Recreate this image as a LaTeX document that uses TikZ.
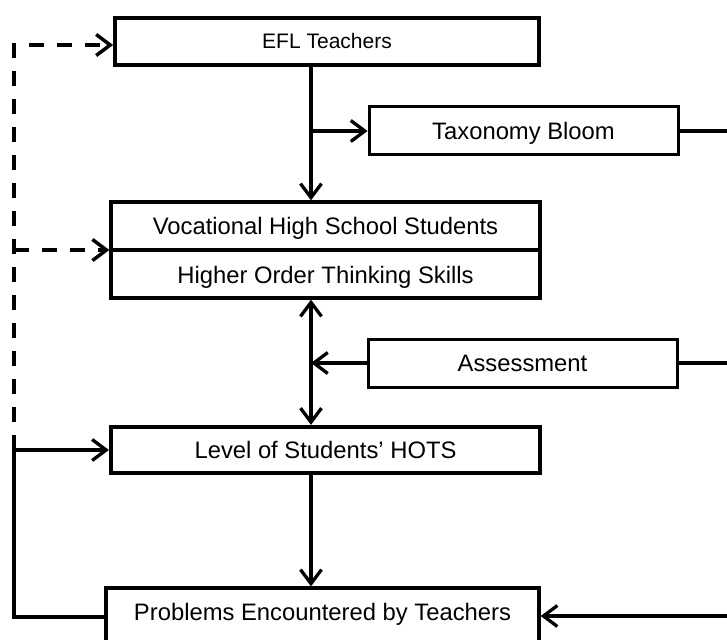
\documentclass[tikz,border=0pt]{standalone}
\usepackage{fontspec}
\setmainfont{Liberation Sans}
\usetikzlibrary{arrows.meta}
\begin{document}
\begin{tikzpicture}[x=1pt,y=-1pt,
  box/.style={draw, line width=3.3pt, inner sep=0pt, font=\fontsize{23.8pt}{28pt}\selectfont, text height=17pt, text depth=0pt},
  lbl/.style={inner sep=0pt, font=\fontsize{23.8pt}{28pt}\selectfont, text height=17pt, text depth=0pt},
  tip/.style={-{Straight Barb[length=14pt,width=21pt]}},
  conn/.style={line width=3.3pt, tip},
  plain/.style={line width=3.3pt},
  dashline/.style={line width=3.5pt, dash pattern=on 15pt off 13pt}]
\useasboundingbox (0,0) rectangle (727,639);
\clip (0,0) rectangle (727,639);

% boxes
\node[box, line width=3.8pt, minimum width=424pt, minimum height=47pt,
      font=\fontsize{21pt}{25pt}\selectfont, text height=15pt] (efl) at (327,41.5) {EFL Teachers};
\node[box, line width=3pt, minimum width=309pt, minimum height=48pt] (tax) at (523.5,131) {Taxonomy Bloom};
\node[box, minimum width=429pt, minimum height=96pt] (voc) at (325.5,250) {};
\draw[plain] (voc.west) -- (voc.east);
\node[lbl] (vtop) at (325.5,226) {Vocational High School Students};
\node[lbl] (vbot) at (325.5,275) {Higher Order Thinking Skills};
\node[box, line width=3pt, minimum width=309pt, minimum height=48pt] (ass) at (522.5,363) {Assessment};
\node[box, line width=4.2pt, minimum width=429pt, minimum height=46pt] (lev) at (325.5,450) {Level of Students’ HOTS};
\node[box, minimum width=433pt, minimum height=56pt] (prob) at (322.5,616) {};
\node[lbl] (probt) at (322.5,612) {Problems Encountered by Teachers};

% helper coordinates
\coordinate (spine) at (311,0);
\coordinate (re) at (745,0);
\coordinate (lx) at (14,0);
\coordinate (pin) at (745,616);
\coordinate (pl) at (14,617);

% central connectors
\draw[conn] (spine |- efl.south) -- (spine |- voc.north);
\draw[conn] (spine |- tax.west) -- (tax.west);
\draw[line width=3.3pt, {Straight Barb[length=14pt,width=21pt]}-{Straight Barb[length=14pt,width=21pt]}]
  (spine |- voc.south) -- (spine |- lev.north);
\draw[conn] (ass.west) -- (spine |- ass.west);
\draw[conn] (spine |- lev.south) -- (spine |- prob.north);

% right side
\draw[plain] (tax.east) -- (tax.east -| re);
\draw[plain] (ass.east) -- (ass.east -| re);
\draw[conn] (pin) -- (pin -| prob.east);

% left side
\draw[conn] (pl -| prob.west) -- (pl) -- (lx |- lev.west) -- (lev.west);
\draw[dashline, tip] (lx |- lev.west) -- (lx |- 0,45) -- ([yshift=-3.5pt]efl.west);
\draw[dashline, tip] (lx |- voc.west) -- (voc.west);
\end{tikzpicture}
\end{document}
